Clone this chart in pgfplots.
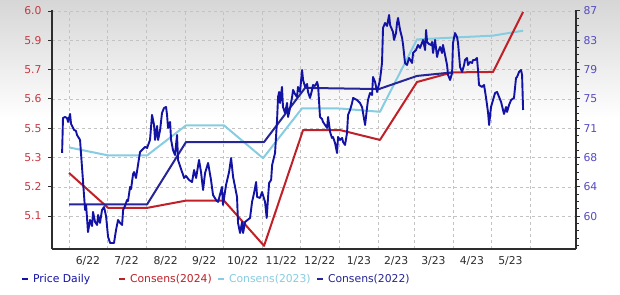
\documentclass[border=0pt]{standalone}
\usepackage{fontspec}
\setmainfont{DejaVu Sans}
\usepackage{pgfplots}
\usepackage{pgfplotstable}
\pgfplotsset{compat=1.18}
\definecolor{pricecol}{RGB}{18,18,165}
\definecolor{c24}{RGB}{192,32,40}
\definecolor{c23}{RGB}{135,205,225}
\definecolor{c22}{RGB}{38,38,150}
\definecolor{leftlab}{RGB}{200,55,65}
\definecolor{rightlab}{RGB}{85,75,195}
\definecolor{axcol}{RGB}{45,45,45}
\definecolor{gridcol}{RGB}{195,195,195}

% day 0 = 1 June 2022; price on right axis
\pgfplotstableread{
day price
-5.5 68.37
-4.8 72.96
-3.2 73.09
-1.6 72.96
-0.8 72.44
0.8 73.49
1.6 72.17
3.2 71.65
4.0 71.39
5.5 71.26
6.3 70.73
8.7 70.08
12.7 60.89
13.5 61.55
15.0 58.00
16.6 59.58
18.2 58.79
19.0 60.63
20.6 59.32
22.2 58.92
23.0 60.24
24.5 59.19
26.1 60.89
27.7 61.28
29.3 60.10
30.9 57.35
32.5 56.56
35.6 56.56
37.2 58.27
38.8 59.58
40.4 59.19
42.0 58.92
42.8 60.89
44.3 61.42
45.9 62.20
46.7 62.07
48.3 63.91
49.1 63.65
50.7 65.61
51.5 65.87
53.0 65.09
54.6 66.79
56.2 68.50
57.8 68.76
60.2 69.16
61.8 69.03
64.1 70.08
65.7 73.36
67.3 72.04
68.1 70.08
69.7 71.91
70.5 70.08
72.1 71.39
73.6 73.62
75.2 74.27
76.8 74.40
77.6 73.36
78.4 71.65
80.0 72.44
80.8 70.08
82.3 68.76
83.9 68.11
85.5 70.73
86.3 67.45
89.5 65.87
91.1 65.09
92.6 65.35
95.0 64.83
97.4 64.56
99.0 66.13
100.6 65.09
102.9 67.45
104.5 65.87
106.1 63.51
107.7 65.74
110.1 67.06
112.4 64.83
114.0 62.86
116.4 62.20
118.0 61.94
121.1 63.91
121.9 61.55
124.3 64.17
126.7 65.87
128.3 67.71
129.9 65.22
133.0 62.60
133.8 59.19
135.4 57.87
137.0 59.32
137.8 57.87
139.4 59.32
143.3 59.84
144.9 61.94
146.5 63.12
148.1 64.56
148.9 62.60
151.2 62.47
152.8 63.25
155.2 61.94
156.5 59.84
157.6 62.60
158.4 64.43
160.0 64.83
160.8 66.79
163.1 68.37
164.7 72.70
165.5 75.72
166.3 76.37
167.1 74.93
168.6 77.03
169.4 74.40
171.0 73.62
172.6 74.93
173.4 73.09
175.0 74.27
176.6 75.72
177.4 76.64
178.9 76.11
180.5 75.72
181.3 77.03
182.9 76.37
184.5 79.26
185.3 77.95
186.9 77.03
188.5 77.42
189.2 76.37
190.8 75.59
192.4 76.64
193.2 77.29
194.8 77.16
196.4 77.69
197.2 77.16
198.7 73.09
200.3 72.83
201.1 72.44
204.3 71.65
205.1 73.09
206.7 71.12
208.2 70.34
209.0 70.47
210.6 69.68
212.2 68.37
213.0 70.47
214.6 70.08
216.2 70.34
217.0 69.81
218.5 69.42
220.1 70.99
220.9 73.36
222.5 74.01
224.1 74.93
224.9 75.59
228.0 75.32
230.4 74.93
232.0 74.40
234.4 72.04
236.0 74.40
236.7 75.32
238.3 76.24
239.9 75.98
240.7 78.34
242.3 77.69
243.9 76.37
244.7 76.90
246.2 77.95
247.8 80.18
248.6 84.77
250.2 85.43
251.8 85.03
253.4 86.48
254.2 85.16
256.5 84.24
257.3 83.20
258.9 84.11
259.7 85.43
260.5 86.08
262.1 84.51
263.7 83.46
264.5 82.54
266.0 80.18
267.6 79.92
269.2 80.83
271.6 80.18
272.4 81.49
274.7 81.88
276.3 82.54
277.9 82.15
280.3 83.20
281.9 81.88
282.7 84.51
283.5 82.93
285.0 82.67
286.6 82.54
287.4 82.93
288.2 81.49
289.8 83.20
291.4 80.96
292.2 81.62
293.8 82.28
295.3 81.49
296.1 82.54
297.7 81.23
299.3 79.92
300.1 78.60
301.7 77.95
303.3 78.87
304.0 82.80
305.6 84.11
307.2 83.59
308.0 82.80
309.6 79.65
311.2 79.00
312.8 79.92
313.5 80.57
315.1 80.83
315.9 79.92
317.5 80.31
319.1 80.18
319.9 80.57
321.5 80.57
323.0 80.83
323.8 79.26
324.6 77.29
327.0 77.03
328.6 77.29
330.2 75.59
331.8 73.62
332.6 72.04
334.1 74.40
335.7 75.32
337.3 76.24
338.9 76.37
340.5 75.72
342.1 75.06
343.6 74.01
344.4 73.49
346.0 74.40
346.8 73.75
348.4 74.67
350.0 75.32
352.3 75.59
353.9 78.21
354.7 78.34
356.3 79.00
357.9 79.26
358.7 78.60
359.5 74.01
}\pricetable

\pgfplotstableread{
day eps
0 5.309
30.9 5.160
61.8 5.160
92.6 5.191
122.7 5.191
154.4 4.998
185.3 5.492
214.6 5.492
246.2 5.450
275.5 5.697
303.3 5.738
335.7 5.740
359.5 5.996
}\consA

\pgfplotstableread{
day eps
0 5.418
30.9 5.384
61.8 5.384
92.6 5.512
122.7 5.512
153.6 5.372
184.5 5.585
214.6 5.584
246.2 5.570
275.5 5.879
335.7 5.895
359.5 5.916
}\consB

\pgfplotstableread{
day eps
0 5.175
61.8 5.175
92.6 5.441
154.4 5.441
186.9 5.672
245.4 5.667
275.5 5.723
303.3 5.738
}\consC

\begin{document}
\begin{tikzpicture}[font=\fontsize{10.8}{13}\selectfont]
\useasboundingbox (-52pt,-45pt) rectangle (568pt,249pt);
\fill[white] (-52pt,-45pt) rectangle (568pt,249pt);
\shade[top color=black!16, bottom color=white] (-52pt,130pt) rectangle (568pt,249pt);

\begin{axis}[
  at={(0,0)}, anchor=south west,
  scale only axis, width=524pt, height=239pt,
  xmin=-13.5, xmax=401.4,
  ymin=4.9846, ymax=6.0043,
  axis x line*=bottom, axis y line*=left,
  axis line style={line width=1.6pt, color=axcol},
  xtick={0,30,61,92,122,153,183,214,245,273,304,334,365},
  xticklabels={},
  xtick style={draw=none},
  extra x ticks={15,45.5,76.5,107,137.5,168,198.5,229.5,259,288.5,319,349.5},
  extra x tick labels={6/22,7/22,8/22,9/22,10/22,11/22,12/22,1/23,2/23,3/23,4/23,5/23},
  extra x tick style={grid=none, major tick length=0pt, xticklabel style={color=axcol, yshift=-4pt}},
  xmajorgrids, ymajorgrids,
  grid style={dashed, gridcol, line width=0.5pt},
  ytick={5.125,5.25,5.375,5.5,5.625,5.75,5.875,6.0},
  yticklabels={5.1,5.2,5.3,5.5,5.6,5.7,5.9,6.0},
  tick align=outside,
  major tick length=4pt,
  ytick style={line width=1pt, color=axcol},
  yticklabel style={color=leftlab, xshift=-3pt},
  xticklabel style={color=axcol},
  legend columns=4,
  legend cell align=left,
  legend style={at={(0,0)}, anchor=west, xshift=-31pt, yshift=-30pt,
    draw=none, fill=none, inner sep=0pt,
    font=\fontsize{10.8}{13}\selectfont,
    /tikz/every even column/.append style={column sep=0pt}},
  legend image code/.code={\draw[line width=2.5pt] (0pt,0pt) -- (5.5pt,0pt); \path (8.5pt,0pt);},
]
\addlegendimage{pricecol}
\addlegendentry{\makebox[83pt][l]{\textcolor{pricecol}{Price Daily}}}
\addlegendimage{c24}
\addlegendentry{\makebox[85pt][l]{\textcolor{c24}{Consens(2024)}}}
\addlegendimage{c23}
\addlegendentry{\makebox[85pt][l]{\textcolor{c23}{Consens(2023)}}}
\addlegendimage{c22}
\addlegendentry{\makebox[85pt][l]{\textcolor{c22}{Consens(2022)}}}

\addplot[forget plot, c23, line width=2pt, line join=round] table[x=day, y=eps] {\consB};
\addplot[forget plot, c24, line width=2pt, line join=round] table[x=day, y=eps] {\consA};
\addplot[forget plot, c22, line width=2pt, line join=round] table[x=day, y=eps] {\consC};
\end{axis}

\begin{axis}[
  at={(0,0)}, anchor=south west,
  scale only axis, width=524pt, height=239pt,
  xmin=-13.5, xmax=401.4,
  ymin=55.77, ymax=87.13,
  hide x axis,
  axis y line*=right,
  axis line style={line width=1.6pt, color=axcol},
  ytick={60.09,63.94,67.78,71.62,75.47,79.31,83.16,87},
  yticklabels={60,64,68,71,75,79,83,87},
  minor ytick={56.248,57.209,...,87.1},
  tick align=outside,
  major tick length=4pt, minor tick length=3pt,
  ytick style={line width=1pt, color=axcol},
  minor tick style={line width=0.8pt, color=axcol},
  yticklabel style={color=rightlab},
]
\addplot[pricecol, line width=1.9pt, line join=round] table[x=day, y=price] {\pricetable};
\end{axis}
\end{tikzpicture}
\end{document}
